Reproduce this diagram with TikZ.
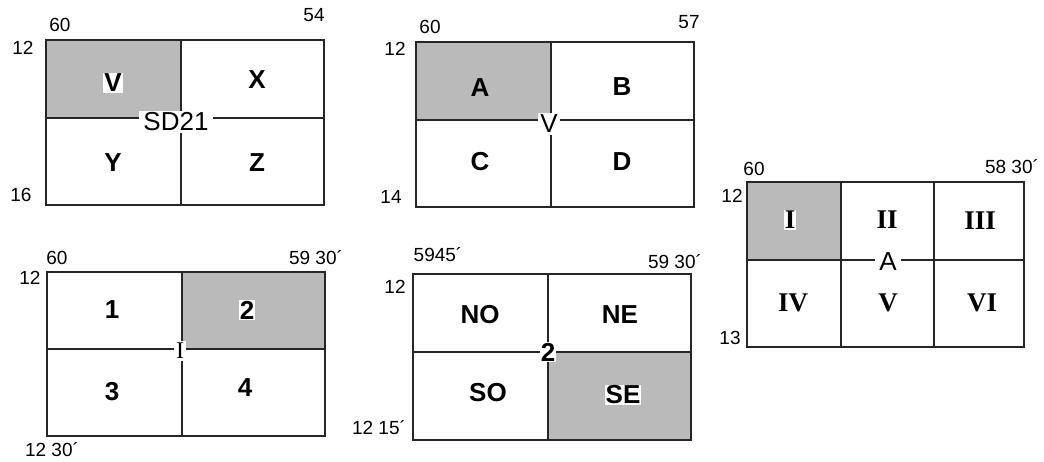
\documentclass[tikz,border=0pt]{standalone}
\usepackage{fontspec}
\setmainfont{Liberation Sans}
\newfontfamily\serifnum{Liberation Serif}
\usetikzlibrary{positioning}
\tikzset{
  every picture/.style={draw=black, text=black},
  gridline/.style={draw=black!85, line width=1.2pt},
  shaded/.style={fill=black!27},
  cellname/.style={font=\fontsize{26}{26}\selectfont\bfseries, inner sep=1pt},
  romanname/.style={font=\fontsize{27}{27}\selectfont\serifnum\bfseries, inner sep=1pt},
  degname/.style={font=\fontsize{19}{19}\selectfont, inner sep=0pt},
  sheetname/.style={fill=white, inner sep=2pt, font=\fontsize{26}{26}\selectfont},
}

\begin{document}
\begin{tikzpicture}[x=1pt, y=-1pt]
\useasboundingbox (0,0) rectangle (1044,462);
% Sheet SD21, quarters V X Y Z
\fill[shaded] (46,40) rectangle (181,118);
\draw[gridline] (46,40) rectangle (324,205);
\draw[gridline] (46,118) -- (324,118) (181,40) -- (181,205);
\node[degname] (w1) at (60,25) {60};
\node[degname] (e1) at (314,15) {54};
\node[degname] (n1) at (23,48) {12};
\node[degname] (s1) at (21,195) {16};
\node[cellname, fill=white] (qv) at (113,83) {V};
\node[cellname] (qx) at (257,80) {X};
\node[cellname] (qy) at (113,163) {Y};
\node[cellname] (qz) at (257,163) {Z};
\node[sheetname, inner xsep=4pt] (sd) at (176,122) {SD21};
% Sheet V, quarters A B C D
\fill[shaded] (416,42) rectangle (551,120);
\draw[gridline] (416,42) rectangle (694,207);
\draw[gridline] (416,120) -- (694,120) (551,42) -- (551,207);
\node[degname] (w2) at (430,27) {60};
\node[degname] (e2) at (689,22) {57};
\node[degname] (n2) at (395,49) {12};
\node[degname] (s2) at (391,197) {14};
\node[cellname] (qa) at (480,88) {A};
\node[cellname] (qb) at (622,87) {B};
\node[cellname] (qc) at (480,162) {C};
\node[cellname] (qd) at (622,162) {D};
\node[sheetname] (sv) at (549,124) {V};
% Sheet A, sixths I to VI
\fill[shaded] (747,182) rectangle (841,260);
\draw[gridline] (747,182) rectangle (1024,347);
\draw[gridline] (747,260) -- (1024,260);
\foreach \x in {841,934}{
  \draw[gridline] (\x,182) -- (\x,347);
}
\node[degname] (w3) at (754,169) {60};
\node[degname] (e3) at (1012,167) {58 30´};
\node[degname] (n3) at (732,196) {12};
\node[degname] (s3) at (730,338) {13};
\node[romanname, fill=white] (r1) at (790,220) {I};
\node[romanname] (r2) at (887,220) {II};
\node[romanname] (r3) at (980,221) {III};
\node[romanname] (r4) at (793,303) {IV};
\node[romanname] (r5) at (888,303) {V};
\node[romanname] (r6) at (982,303) {VI};
\node[sheetname, inner xsep=4pt] (sa) at (888,262) {A};
% Sheet I, quarters 1 to 4
\fill[shaded] (182,272) rectangle (325,349);
\draw[gridline] (47,272) rectangle (325,436);
\draw[gridline] (47,349) -- (325,349) (182,272) -- (182,436);
\node[degname] (w4) at (57,258) {60};
\node[degname] (e4) at (316,258) {59 30´};
\node[degname] (n4) at (30,278) {12};
\node[degname] (s4) at (52,450) {12 30´};
\node[cellname] (q1) at (112,310) {1};
\node[cellname, fill=white] (q2) at (247,310) {2};
\node[cellname] (q3) at (112,392) {3};
\node[cellname] (q4) at (245,388) {4};
\node[sheetname, font=\fontsize{24}{24}\selectfont\serifnum] (si) at (180,351) {I};
% Sheet 2, quarters NO NE SO SE
\fill[shaded] (548,352) rectangle (691,440);
\draw[gridline] (413,274) rectangle (691,440);
\draw[gridline] (413,352) -- (691,352) (548,274) -- (548,440);
\node[degname] (w5) at (438,255) {5945´};
\node[degname] (e5) at (675,262) {59 30´};
\node[degname] (n5) at (395,287) {12};
\node[degname] (s5) at (379,428) {12 15´};
\node[cellname] (qno) at (480,315) {NO};
\node[cellname] (qne) at (620,315) {NE};
\node[cellname] (qso) at (488,393) {SO};
\node[cellname, fill=white] (qse) at (623,395) {SE};
\node[sheetname, inner sep=1pt, font=\fontsize{26}{26}\selectfont\bfseries] (s2n) at (548,352) {2};
\end{tikzpicture}
\end{document}
